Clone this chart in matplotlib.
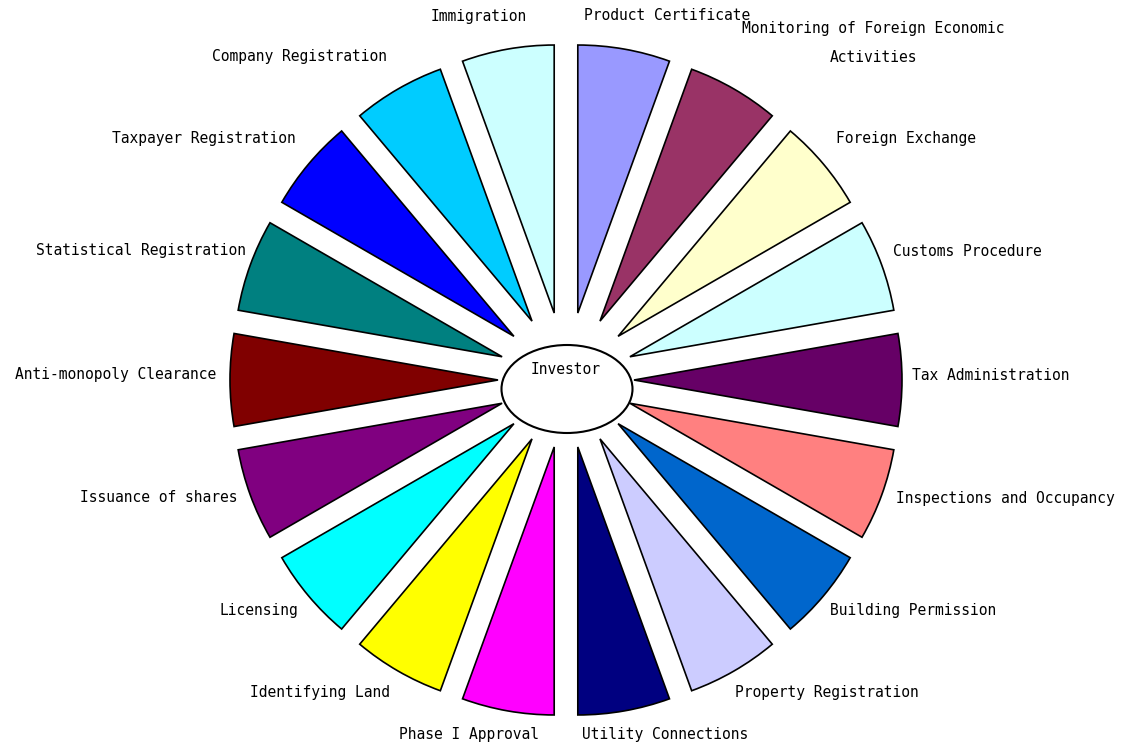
import matplotlib
matplotlib.use("Agg")
import matplotlib.pyplot as plt
from matplotlib.patches import Ellipse

# categories clockwise from the top
labels = ["Product Certificate", "Monitoring of Foreign Economic\n\nActivities",
          "Foreign Exchange", "Customs Procedure", "Tax Administration",
          "Inspections and Occupancy", "Building Permission", "Property Registration",
          "Utility Connections", "Phase I Approval", "Identifying Land", "Licensing",
          "Issuance of shares", "Anti-monopoly Clearance", "Statistical Registration",
          "Taxpayer Registration", "Company Registration", "Immigration"]
values = [1] * 18
colors = ["#9999FF", "#993366", "#FFFFCC", "#CCFFFF", "#660066", "#FF8080",
          "#0066CC", "#CCCCFF", "#000080", "#FF00FF", "#FFFF00", "#00FFFF",
          "#800080", "#800000", "#008080", "#0000FF", "#00CCFF", "#CCFFFF"]

# label centres in pixel coordinates (x, y from top)
label_pos = [(667, 16), (873, 43), (906, 139), (967, 251), (991, 375),
             (1005, 498), (913, 610), (827, 693), (665, 734), (469, 734),
             (320, 693), (259, 610), (159, 498), (116, 375), (141, 251),
             (204, 139), (300, 56), (479, 16)]

W, H = 1123, 743
fig = plt.figure(figsize=(W / 100, H / 100), dpi=100)
ax = fig.add_axes([0, 0, 1, 1])

cx, cy = 566, H - 380
R = 268
# explode offset is in data units here (pixels)
ax.pie(values, colors=colors, startangle=90, counterclock=False,
       explode=[68] * 18, radius=R, center=(cx, cy),
       wedgeprops=dict(edgecolor="black", linewidth=1.2))

ax.add_patch(Ellipse((567, H - 389), 131, 88, facecolor="white",
                     edgecolor="black", linewidth=1.5, zorder=5))
ax.text(566, H - 370, "Investor", ha="center", va="center",
        family="DejaVu Sans Mono", fontsize=10.5, zorder=6)

for lab, (px, py) in zip(labels, label_pos):
    ax.text(px, H - py, lab, ha="center", va="center",
            family="DejaVu Sans Mono", fontsize=10.5, linespacing=1.0)

ax.set_xlim(0, W)
ax.set_ylim(0, H)
ax.set_aspect("equal")
ax.axis("off")

fig.savefig("out.png", dpi=100, facecolor="white")
